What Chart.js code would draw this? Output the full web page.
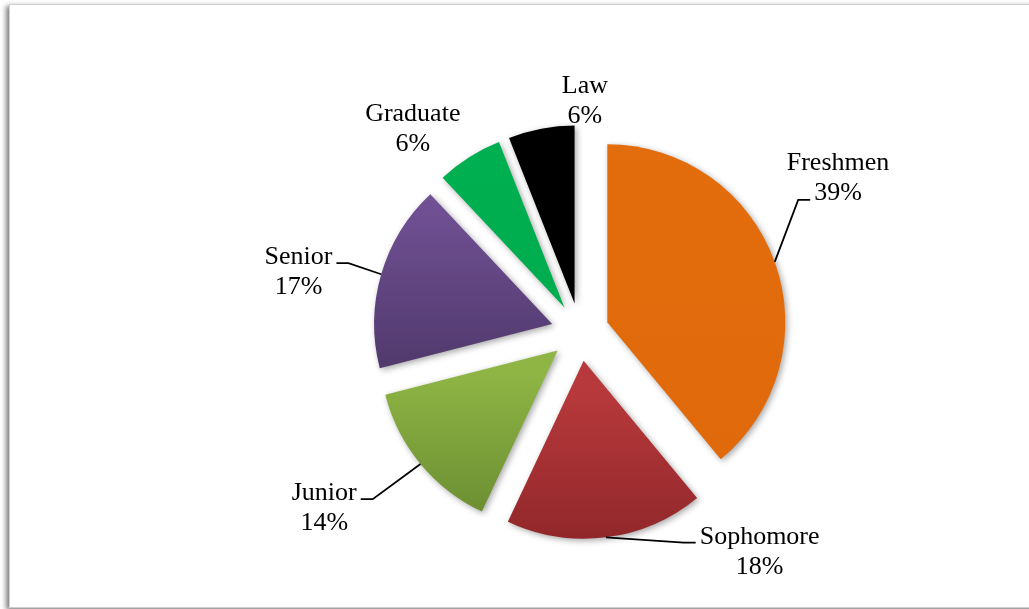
<!DOCTYPE html>
<html>
<head>
<meta charset="utf-8">
<script src="https://cdn.jsdelivr.net/npm/chart.js@4.4.1/dist/chart.umd.min.js"></script>
<style>
  html, body { margin: 0; padding: 0; background: #fff; overflow: hidden; }
  #frame {
    position: absolute; left: 9px; top: 4px; width: 1040px; height: 602px;
    border: 1px solid #cfcfcf; background: #fff;
    box-shadow: -3px 2px 5px rgba(0, 0, 0, 0.5);
  }
  #wrap { position: absolute; left: 0; top: 0; width: 1029px; height: 609px; }
</style>
</head>
<body>
<div id="frame"></div>
<div id="wrap"><canvas id="pieChart"></canvas></div>
<script>
// data, clockwise from 12 o'clock
const categories = ['Freshmen', 'Sophomore', 'Junior', 'Senior', 'Graduate', 'Law'];
const shares = [39, 18, 14, 17, 6, 6];

// fill colours (top -> bottom of each slice)
const topColors = ['#e36c0c', '#b8393b', '#8fb645', '#745399', '#00b050', '#000000'];
const bottomColors = ['#e06a0b', '#8a2427', '#688a30', '#523a6e', '#00ad4f', '#000000'];

// label placement: angle (deg, clockwise from 12 o'clock) and distance from pie centre
const labelAngles = [59, 140.6, 235.6, 282.2, 320.7, 1.2];
const labelDistances = [301, 283, 310, 288, 264, 232];

const EXPLODE = 29;
const RADIUS = 178;
const LINE_H = 30;

function total() {
    return shares.reduce((a, b) => a + b, 0);
}

// vertical gradient spanning each (exploded) slice
function sliceGradient(context) {
    const chart = context.chart;
    const area = chart.chartArea;
    const i = context.dataIndex;
    if (!area || i === undefined) return topColors[i] || '#888';
    let before = 0;
    for (let k = 0; k < i; k++) before += shares[k];
    const a0 = -Math.PI / 2 + 2 * Math.PI * before / total();
    const a1 = a0 + 2 * Math.PI * shares[i] / total();
    const mid = (a0 + a1) / 2;
    const cy = (area.top + area.bottom) / 2 + Math.sin(mid) * EXPLODE;
    let yMin = cy, yMax = cy;
    for (let s = 0; s <= 40; s++) {
        const y = cy + Math.sin(a0 + (a1 - a0) * s / 40) * RADIUS;
        yMin = Math.min(yMin, y);
        yMax = Math.max(yMax, y);
    }
    const g = chart.ctx.createLinearGradient(0, yMin, 0, yMax);
    g.addColorStop(0, topColors[i]);
    g.addColorStop(1, bottomColors[i]);
    return g;
}

// draw every slice pushed out along its mid angle, with a soft shadow
const explodePlugin = {
    id: 'explode',
    beforeDatasetDraw(chart, args) {
        const ctx = chart.ctx;
        args.meta.data.forEach(arc => {
            const mid = (arc.startAngle + arc.endAngle) / 2;
            ctx.save();
            ctx.translate(Math.cos(mid) * EXPLODE, Math.sin(mid) * EXPLODE);
            ctx.shadowColor = 'rgba(0, 0, 0, 0.35)';
            ctx.shadowBlur = 6;
            ctx.shadowOffsetX = 2;
            ctx.shadowOffsetY = 2;
            arc.draw(ctx);
            ctx.restore();
        });
        return false;
    }
};

// category + percent labels with leader lines
const labelPlugin = {
    id: 'sliceLabels',
    afterDatasetsDraw(chart) {
        const ctx = chart.ctx;
        const arcs = chart.getDatasetMeta(0).data;
        ctx.save();
        ctx.font = '26px "Liberation Serif", "Times New Roman", serif';
        ctx.fillStyle = '#000';
        ctx.textAlign = 'center';
        ctx.textBaseline = 'middle';
        arcs.forEach((arc, i) => {
            const lines = [categories[i], Math.round(shares[i] / total() * 100) + '%'];
            const la = labelAngles[i] * Math.PI / 180;
            const bx = arc.x + Math.sin(la) * labelDistances[i];
            const by = arc.y - Math.cos(la) * labelDistances[i];
            const widths = lines.map(t => ctx.measureText(t).width);
            const w = Math.max(...widths);
            const top = by - LINE_H * lines.length / 2;
            const bottom = by + LINE_H * lines.length / 2;

            const mid = (arc.startAngle + arc.endAngle) / 2;
            const px = arc.x + Math.cos(mid) * (EXPLODE + arc.outerRadius);
            const py = arc.y + Math.sin(mid) * (EXPLODE + arc.outerRadius);
            const gapX = Math.max(bx - w / 2 - px, px - (bx + w / 2), 0);
            const gapY = Math.max(top - py, py - bottom, 0);

            if (Math.hypot(gapX, gapY) > 30) {
                let ey, ew;
                if (py > bottom) {
                    ey = bottom - 7;
                    ew = widths[widths.length - 1];
                } else {
                    ey = by - 8;
                    ew = w;
                }
                const side = bx > px ? -1 : 1;
                const ex = bx + side * (ew / 2 + 4);
                const kx = ex + side * 12;
                ctx.beginPath();
                ctx.moveTo(px, py);
                ctx.lineTo(kx, ey);
                ctx.lineTo(ex, ey);
                ctx.strokeStyle = '#000';
                ctx.lineWidth = 1.8;
                ctx.stroke();
            }
            lines.forEach((t, k) => ctx.fillText(t, bx, top + 1 + LINE_H * (k + 0.5)));
        });
        ctx.restore();
    }
};

const ctx = document.getElementById('pieChart').getContext('2d');
const pieChart = new Chart(ctx, {
    type: 'pie',
    data: {
        labels: categories,
        datasets: [{
            data: shares,
            backgroundColor: sliceGradient,
            borderWidth: 0,
            radius: RADIUS
        }]
    },
    options: {
        responsive: true,
        maintainAspectRatio: false,
        animation: false,
        events: [],
        layout: { padding: { left: 131, top: 55, right: 0, bottom: 0 } },
        plugins: {
            legend: { display: false },
            tooltip: { enabled: false }
        }
    },
    plugins: [explodePlugin, labelPlugin]
});
</script>
</body>
</html>
